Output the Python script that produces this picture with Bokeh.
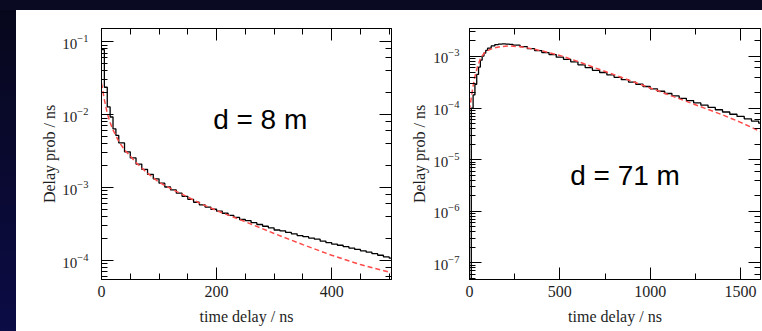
from bokeh.plotting import figure
from bokeh.models import (Range1d, LogAxis, LinearAxis, SingleIntervalTicker, LogTicker,
                          CustomJSTickFormatter, Label, Spacer)
from bokeh.layouts import row, column
from bokeh.embed import file_html
from bokeh.resources import INLINE

# ---------------- data ----------------
# d = 8 m : histogram (bin edges in ns, probability per ns)
near_edges = [0, 5, 10, 15, 20, 25, 30, 40, 50, 60, 70, 80, 90, 100, 110, 120, 130, 140, 150,
              160, 170, 180, 190, 200, 210, 220, 230, 240, 250, 260, 270, 280, 290, 300, 310,
              320, 330, 340, 350, 360, 370, 380, 390, 400, 410, 420, 430, 440, 450, 460, 470,
              480, 490, 500, 510]
near_hist = [0.078, 0.0238, 0.0128, 0.0093, 0.0064, 0.0052, 0.0041, 0.0031, 0.00255, 0.0021,
             0.00178, 0.00152, 0.00132, 0.00115, 0.00102, 0.00093, 0.00084, 0.00076, 0.00069,
             0.00063, 0.00058, 0.00054, 0.000505, 0.000475, 0.000445, 0.000415, 0.00039,
             0.000365, 0.000352, 0.00033, 0.000312, 0.000295, 0.00028, 0.000262, 0.000255,
             0.000243, 0.000232, 0.00022, 0.000212, 0.000203, 0.000196, 0.000185, 0.000176,
             0.000168, 0.000162, 0.000155, 0.000148, 0.000142, 0.000136, 0.00013, 0.000124,
             0.000118, 0.000112, 0.000108]
# d = 8 m : fit curve
near_fit_t = [0, 5, 10, 15, 20, 30, 40, 50, 60, 80, 100, 125, 150, 175, 200, 250, 300, 350,
              400, 450, 504]
near_fit = [0.027, 0.016, 0.0105, 0.0078, 0.0062, 0.0043, 0.0033, 0.0027, 0.0022, 0.00158,
            0.00118, 0.00093, 0.00074, 0.00059, 0.000485, 0.00034, 0.000235, 0.000165,
            0.000118, 0.000088, 0.000068]

# d = 71 m : histogram
far_edges = [0, 10, 20, 30, 40, 50, 60, 70, 80, 90, 100, 120, 140, 160, 180, 200, 220, 240,
             280, 320, 360, 400, 440, 480, 520, 560, 600, 640, 680, 720, 760, 800, 840, 880,
             920, 960, 1000, 1040, 1080, 1120, 1160, 1200, 1240, 1280, 1320, 1360, 1400, 1440,
             1480, 1520, 1560, 1600, 1640]
far_hist = [1e-8, 1.0e-4, 1.8e-4, 2.9e-4, 4.5e-4, 6.2e-4, 8.5e-4, 1.02e-3, 1.17e-3, 1.32e-3,
            1.45e-3, 1.6e-3, 1.7e-3, 1.74e-3, 1.75e-3, 1.74e-3, 1.72e-3,
            1.66e-3, 1.55e-3, 1.42e-3, 1.30e-3, 1.19e-3, 1.09e-3, 9.7e-4, 8.8e-4, 7.9e-4,
            6.9e-4, 6.1e-4, 5.4e-4, 4.9e-4, 4.4e-4, 3.95e-4, 3.55e-4, 3.2e-4, 2.9e-4, 2.62e-4,
            2.36e-4, 2.12e-4, 1.92e-4, 1.72e-4, 1.55e-4, 1.4e-4, 1.26e-4, 1.14e-4, 1.03e-4,
            9.3e-5, 8.4e-5, 7.6e-5, 6.9e-5, 6.2e-5, 5.6e-5, 5.1e-5]
# d = 71 m : fit curve
far_fit_t = [0, 10, 20, 30, 45, 60, 80, 100, 130, 170, 220, 280, 350, 420, 500, 600, 700, 800,
             900, 1000, 1100, 1200, 1300, 1400, 1500, 1610]
far_fit = [9e-5, 1.6e-4, 2.7e-4, 4.1e-4, 6.5e-4, 9.0e-4, 1.15e-3, 1.3e-3, 1.45e-3, 1.55e-3,
           1.6e-3, 1.55e-3, 1.4e-3, 1.24e-3, 1.05e-3, 8.0e-4, 5.95e-4, 4.45e-4, 3.3e-4,
           2.45e-4, 1.82e-4, 1.35e-4, 1.0e-4, 7.4e-5, 5.3e-5, 3.5e-5]

x_title = "time delay / ns"
y_title = "Delay prob / ns"
near_text = "d = 8 m"
far_text = "d = 71 m"

SERIF = "Liberation Serif"
INK = "#1e1e1e"


def style_axis(ax, labels=True, standoff=6):
    ax.major_tick_in = 12
    ax.major_tick_out = 0
    ax.minor_tick_in = 6
    ax.minor_tick_out = 0
    ax.axis_line_color = "black"
    ax.major_tick_line_color = "black"
    ax.minor_tick_line_color = "black"
    ax.major_label_text_font = SERIF
    ax.major_label_text_font_size = "16px"
    ax.major_label_text_color = INK
    ax.axis_label_text_font = SERIF
    ax.axis_label_text_font_size = "16px"
    ax.axis_label_text_font_style = "normal"
    ax.axis_label_text_color = INK
    ax.major_label_standoff = standoff
    if not labels:
        ax.formatter = CustomJSTickFormatter(code="return ''")
        ax.major_label_text_font_size = "0px"
        ax.major_label_standoff = 0
        ax.axis_label_standoff = 0


def make_panel(xmax, ymin, ymax, interval, nminor, edges, hist, fit_t, fit, text, tx, ty,
               width, left_border, right_border, ystandoff, ylabel_standoff):
    p = figure(x_range=Range1d(0, xmax), y_range=Range1d(ymin, ymax), y_axis_type="log",
               width=width, height=321, title=None, output_backend="svg",
               toolbar_location=None,
               min_border_left=left_border, min_border_right=right_border,
               min_border_top=18, min_border_bottom=52)
    p.xgrid.visible = False
    p.ygrid.visible = False
    p.background_fill_color = "white"
    p.border_fill_color = "white"
    p.outline_line_color = "black"
    p.outline_line_width = 1

    xa = p.xaxis[0]
    xa.ticker = SingleIntervalTicker(interval=interval, num_minor_ticks=nminor)
    xa.axis_label = x_title
    style_axis(xa, True, 6)
    xa.axis_label_standoff = 8

    ya = p.yaxis[0]
    ya.axis_label = y_title
    style_axis(ya, True, ystandoff)
    ya.major_label_text_font_size = "15px"
    ya.axis_label_standoff = ylabel_standoff

    top = LinearAxis(ticker=SingleIntervalTicker(interval=interval, num_minor_ticks=nminor))
    style_axis(top, False)
    p.add_layout(top, "above")
    right = LogAxis(ticker=LogTicker())
    style_axis(right, False)
    p.add_layout(right, "right")

    p.step(x=edges, y=list(hist) + [hist[-1]], mode="after", line_color="black", line_width=1.3)
    p.line(x=fit_t, y=fit, line_color="#ff4a4a", line_width=1.5, line_dash="5 3")

    p.add_layout(Label(x=tx, y=ty, text=text, text_font="Liberation Sans",
                       text_font_size="28px", text_color="black", text_baseline="alphabetic"))
    return p


p1 = make_panel(504, 5.49e-5, 0.1522, 200, 4, near_edges, near_hist, near_fit_t, near_fit,
                near_text, 194, 0.0086, 389, 85, 14, 13, 1)
p2 = make_panel(1610, 4.77e-8, 3.488e-3, 500, 2, far_edges, far_hist, far_fit_t, far_fit,
                far_text, 557, 4.9e-6, 357, 64, 2, 10, 2)

top_strip = Spacer(width=762, height=10, styles={"background-color": "#0a0a22"})
left_strip = Spacer(width=16, height=321,
                    styles={"background": "linear-gradient(#07071c, #0c0c46)"})
layout = column(top_strip,
                row(left_strip, p1, p2, spacing=0, styles={"background-color": "white"}),
                spacing=0)

open("out.html", "w").write(file_html(layout, INLINE))
